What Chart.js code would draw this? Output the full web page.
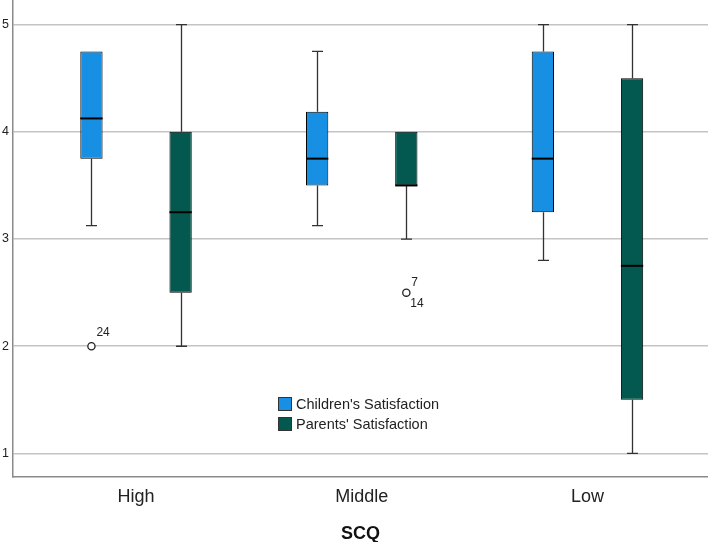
<!DOCTYPE html>
<html>
<head>
<meta charset="utf-8">
<script src="https://cdn.jsdelivr.net/npm/chart.js@4/dist/chart.umd.min.js"></script>
<style>
  html, body { margin: 0; padding: 0; background: #fff; }
  #wrap { width: 708px; height: 542px; position: relative; }
</style>
</head>
<body>
<div id="wrap"><canvas id="box-chart"></canvas></div>
<script>
// SCQ groups
var categories = ['High', 'Middle', 'Low'];
var yTicks = [1, 2, 3, 4, 5];

// Children's Satisfaction
var childMin    = [3.125, 3.125, 2.8];
var childQ1     = [3.75, 3.5, 3.25];
var childMedian = [4.125, 3.75, 3.75];
var childQ3     = [4.75, 4.1875, 4.75];
var childMax    = [4.75, 4.75, 5];
var childOutliers = [{ group: 0, value: 2, labels: ['24'] }];

// Parents' Satisfaction
var parentMin    = [2, 3, 1];
var parentQ1     = [2.5, 3.5, 1.5];
var parentMedian = [3.25, 3.5, 2.75];
var parentQ3     = [4, 4, 4.5];
var parentMax    = [5, 4, 5];
var parentOutliers = [{ group: 1, value: 2.5, labels: ['7', '14'] }];

var FONT = "'Liberation Sans', Arial, sans-serif";

function boxes(q1, q3) {
    return categories.map(function (c, i) { return { x: i, y: [q1[i], q3[i]] }; });
}

var stats = [
    { min: childMin, med: childMedian, max: childMax, q1: childQ1, q3: childQ3, out: childOutliers },
    { min: parentMin, med: parentMedian, max: parentMax, q1: parentQ1, q3: parentQ3, out: parentOutliers }
];

// whiskers behind the boxes, medians + outliers on top
var boxPlugin = {
    id: 'boxParts',
    beforeDatasetsDraw: function (chart) {
        var ctx = chart.ctx, y = chart.scales.y;
        ctx.save();
        ctx.strokeStyle = '#333';
        ctx.lineWidth = 1.3;
        stats.forEach(function (s, di) {
            chart.getDatasetMeta(di).data.forEach(function (bar, j) {
                var x = Math.round(bar.x) + 0.5;
                var pairs = [[s.q3[j], s.max[j]], [s.q1[j], s.min[j]]];
                pairs.forEach(function (p) {
                    if (p[0] === p[1]) return;
                    ctx.beginPath();
                    ctx.moveTo(x, y.getPixelForValue(p[0]));
                    ctx.lineTo(x, y.getPixelForValue(p[1]));
                    ctx.moveTo(x - 5.5, y.getPixelForValue(p[1]));
                    ctx.lineTo(x + 5.5, y.getPixelForValue(p[1]));
                    ctx.stroke();
                });
            });
        });
        ctx.restore();
    },
    afterDatasetsDraw: function (chart) {
        var ctx = chart.ctx, y = chart.scales.y;
        ctx.save();
        stats.forEach(function (s, di) {
            chart.getDatasetMeta(di).data.forEach(function (bar, j) {
                var py = y.getPixelForValue(s.med[j]);
                ctx.strokeStyle = '#000';
                ctx.lineWidth = 2;
                ctx.beginPath();
                ctx.moveTo(bar.x - bar.width / 2, py);
                ctx.lineTo(bar.x + bar.width / 2, py);
                ctx.stroke();
            });
            var meta = chart.getDatasetMeta(di);
            s.out.forEach(function (o) {
                var px = meta.data[o.group].x;
                var py = y.getPixelForValue(o.value);
                ctx.beginPath();
                ctx.arc(px, py, 3.6, 0, Math.PI * 2);
                ctx.fillStyle = '#fff';
                ctx.fill();
                ctx.strokeStyle = '#222';
                ctx.lineWidth = 1.3;
                ctx.stroke();
                ctx.fillStyle = '#222';
                ctx.font = '12px ' + FONT;
                ctx.textAlign = 'left';
                ctx.textBaseline = 'middle';
                if (o.labels.length === 1) {
                    ctx.fillText(o.labels[0], px + 5, py - 14);
                } else {
                    ctx.fillText(o.labels[0], px + 5, py - 10);
                    ctx.fillText(o.labels[1], px + 4, py + 11);
                }
            });
        });
        // legend inside plot
        var lx = 278, ly = 397;
        chart.data.datasets.forEach(function (ds, i) {
            var top = ly + i * 20;
            ctx.fillStyle = ds.backgroundColor;
            ctx.fillRect(lx, top, 14, 14);
            ctx.strokeStyle = '#333';
            ctx.lineWidth = 1;
            ctx.strokeRect(lx + 0.5, top + 0.5, 13, 13);
            ctx.fillStyle = '#222';
            ctx.font = '14.5px ' + FONT;
            ctx.textAlign = 'left';
            ctx.textBaseline = 'middle';
            ctx.fillText(ds.label, lx + 18, top + 8);
        });
        ctx.restore();
    }
};

new Chart(document.getElementById('box-chart'), {
    type: 'bar',
    data: {
        datasets: [
            {
                label: "Children's Satisfaction",
                data: boxes(childQ1, childQ3),
                backgroundColor: '#1790e4',
                borderColor: '#000',
                borderWidth: 1,
                borderSkipped: false
            },
            {
                label: "Parents' Satisfaction",
                data: boxes(parentQ1, parentQ3),
                backgroundColor: '#03594f',
                borderColor: '#000',
                borderWidth: 1,
                borderSkipped: false
            }
        ]
    },
    options: {
        responsive: true,
        maintainAspectRatio: false,
        animation: false,
        layout: { padding: 0 },
        categoryPercentage: 0.79,
        barPercentage: 0.25,
        plugins: {
            legend: { display: false },
            tooltip: { enabled: false }
        },
        scales: {
            x: {
                type: 'linear',
                offset: false,
                min: -0.545,
                max: 2.534,
                afterBuildTicks: function (s) {
                    s.ticks = categories.map(function (c, i) { return { value: i }; });
                },
                afterFit: function (s) {
                    s.height = 65;
                    s.paddingLeft = 0;
                    s.paddingRight = 0;
                },
                grid: { display: false, drawTicks: false },
                border: { color: '#8a8a8a', width: 1.5 },
                ticks: {
                    padding: 9,
                    color: '#222',
                    font: { family: FONT, size: 18 },
                    callback: function (v) { return categories[v]; }
                },
                title: {
                    display: true,
                    text: 'SCQ',
                    color: '#111',
                    padding: { top: 0, bottom: -3 },
                    font: { family: FONT, size: 18, weight: 'bold' }
                }
            },
            y: {
                min: 0.78,
                max: 5.23,
                afterBuildTicks: function (s) {
                    s.ticks = yTicks.map(function (v) { return { value: v }; });
                },
                afterFit: function (s) {
                    s.width = 13;
                    s.paddingTop = 0;
                    s.paddingBottom = 0;
                },
                grid: { color: '#c4c4c4', lineWidth: 1.5, drawTicks: false },
                border: { color: '#8a8a8a', width: 1.5 },
                ticks: {
                    padding: 4,
                    color: '#222',
                    font: { family: FONT, size: 12.5 }
                }
            }
        }
    },
    plugins: [boxPlugin]
});
</script>
</body>
</html>
